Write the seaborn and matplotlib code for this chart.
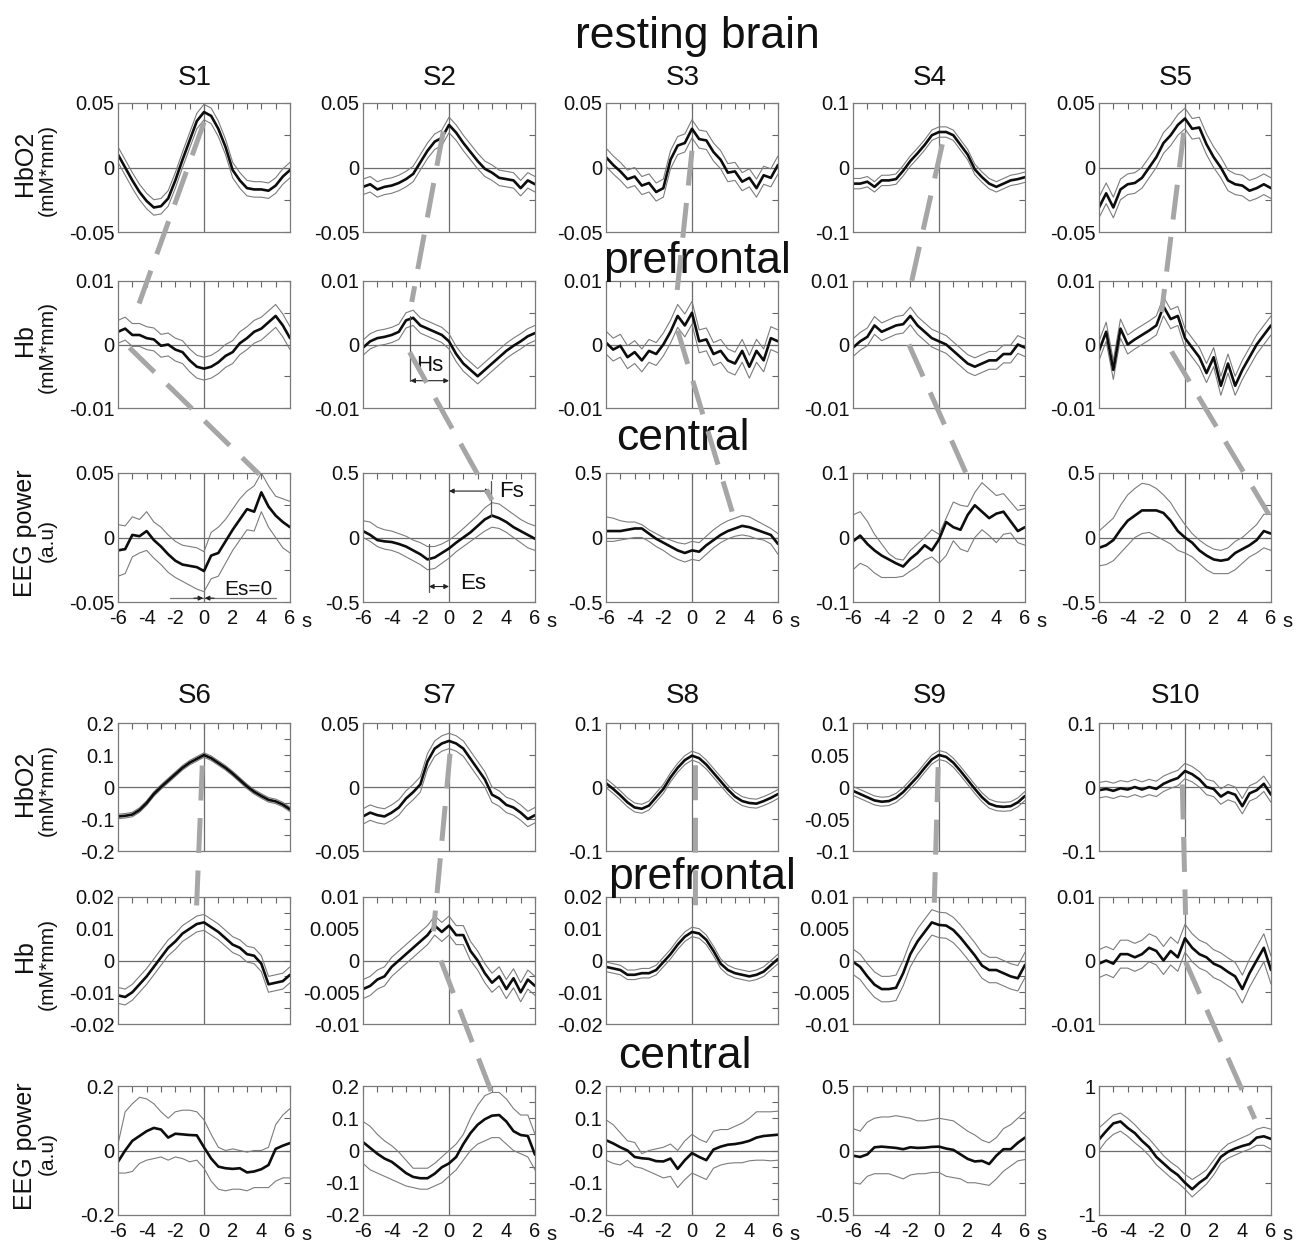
import numpy as np
import matplotlib
matplotlib.use("Agg")
import matplotlib.pyplot as plt
import seaborn as sns
from matplotlib.patches import ConnectionPatch
from matplotlib.ticker import FuncFormatter, MultipleLocator

sns.set_theme(style="white")
plt.rcParams["font.family"] = ["Liberation Sans", "DejaVu Sans"]
plt.rcParams["axes.unicode_minus"] = False

# ---------------------------------------------------------------- data
time_s = np.linspace(-6, 6, 25)
x_ticks = [-6, -5, -4, -3, -2, -1, 0, 1, 2, 3, 4, 5, 6]
x_tick_labels = ["-6", "", "-4", "", "-2", "", "0", "", "2", "", "4", "", "6"]

subjects = ["S1", "S2", "S3", "S4", "S5", "S6", "S7", "S8", "S9", "S10"]

# HbO2 (prefrontal) mean curves and band half widths
s1_hbo2 = [0.010, 0.000, -0.010, -0.019, -0.026, -0.031, -0.030, -0.024, -0.010, 0.006, 0.021, 0.036, 0.043, 0.040, 0.030, 0.016, -0.002, -0.010, -0.016, -0.017, -0.017, -0.018, -0.014, -0.007, -0.002]
s2_hbo2 = [-0.015, -0.013, -0.017, -0.015, -0.014, -0.012, -0.009, -0.005, 0.004, 0.013, 0.020, 0.023, 0.033, 0.027, 0.019, 0.012, 0.005, -0.001, -0.004, -0.008, -0.009, -0.010, -0.016, -0.010, -0.013]
s3_hbo2 = [0.008, 0.002, -0.003, -0.009, -0.007, -0.014, -0.012, -0.019, -0.016, 0.006, 0.017, 0.019, 0.030, 0.022, 0.021, 0.012, 0.006, -0.004, -0.003, -0.011, -0.008, -0.016, -0.006, -0.008, 0.002]
s4_hbo2 = [-0.025, -0.025, -0.022, -0.030, -0.020, -0.020, -0.018, -0.005, 0.010, 0.022, 0.035, 0.050, 0.055, 0.055, 0.050, 0.035, 0.020, -0.003, -0.015, -0.025, -0.030, -0.025, -0.020, -0.018, -0.015]
s5_hbo2 = [-0.031, -0.020, -0.031, -0.017, -0.013, -0.012, -0.008, 0.000, 0.008, 0.019, 0.025, 0.033, 0.038, 0.030, 0.031, 0.018, 0.008, 0.000, -0.010, -0.013, -0.014, -0.018, -0.016, -0.013, -0.016]
s6_hbo2 = [-0.092, -0.090, -0.086, -0.072, -0.050, -0.022, 0.000, 0.020, 0.040, 0.060, 0.076, 0.088, 0.100, 0.090, 0.075, 0.060, 0.042, 0.022, 0.002, -0.015, -0.028, -0.040, -0.045, -0.055, -0.070]
s7_hbo2 = [-0.023, -0.020, -0.022, -0.023, -0.020, -0.016, -0.009, -0.004, 0.002, 0.020, 0.030, 0.034, 0.036, 0.034, 0.030, 0.022, 0.014, 0.006, -0.006, -0.009, -0.014, -0.016, -0.020, -0.025, -0.022]
s8_hbo2 = [0.006, -0.003, -0.013, -0.024, -0.032, -0.034, -0.029, -0.016, -0.003, 0.015, 0.030, 0.042, 0.049, 0.045, 0.035, 0.022, 0.009, -0.004, -0.015, -0.022, -0.025, -0.026, -0.022, -0.017, -0.011]
s9_hbo2 = [-0.006, -0.011, -0.016, -0.021, -0.023, -0.022, -0.017, -0.008, 0.004, 0.016, 0.030, 0.043, 0.050, 0.047, 0.038, 0.025, 0.011, -0.003, -0.016, -0.026, -0.030, -0.031, -0.030, -0.024, -0.014]
s10_hbo2 = [-0.005, -0.003, -0.006, -0.002, -0.004, 0.000, -0.004, 0.000, -0.003, 0.005, 0.010, 0.014, 0.025, 0.020, 0.012, 0.000, -0.003, -0.015, -0.008, -0.012, -0.030, -0.010, -0.005, 0.005, -0.012]
hbo2_band = [0.006, 0.006, 0.007, 0.008, 0.008, 0.007, 0.006, 0.007, 0.007, 0.012]

# Hb (prefrontal) mean curves and band half widths
s1_hb = [0.002, 0.0025, 0.0015, 0.0015, 0.001, 0.0008, -0.0002, 0.0, -0.0008, -0.0012, -0.0025, -0.0035, -0.0038, -0.0035, -0.0028, -0.0018, -0.0012, 0.0002, 0.001, 0.002, 0.0025, 0.0035, 0.0045, 0.003, 0.001]
s2_hb = [-0.0005, 0.0005, 0.001, 0.0012, 0.0015, 0.002, 0.0038, 0.0042, 0.003, 0.0025, 0.002, 0.0015, 0.0005, -0.0015, -0.003, -0.004, -0.005, -0.004, -0.003, -0.002, -0.001, -0.0002, 0.0005, 0.0013, 0.0018]
s3_hb = [0.0003, -0.0008, -0.0002, -0.002, -0.0012, -0.0025, -0.001, -0.0015, 0.0, 0.002, 0.0045, 0.003, 0.005, 0.0005, 0.0008, -0.0015, -0.001, -0.0025, -0.003, -0.001, -0.0035, -0.001, -0.0025, 0.001, 0.0005]
s4_hb = [-0.0005, 0.0005, 0.0012, 0.003, 0.002, 0.0025, 0.003, 0.0032, 0.0045, 0.003, 0.002, 0.001, 0.0005, 0.0, -0.001, -0.002, -0.003, -0.0035, -0.003, -0.0025, -0.0025, -0.0015, -0.0015, 0.0, -0.0005]
s5_hb = [-0.001, 0.002, -0.004, 0.0025, 0.0, 0.0008, 0.0015, 0.0022, 0.003, 0.006, 0.004, 0.0045, 0.001, -0.0005, -0.002, -0.0045, -0.002, -0.0065, -0.003, -0.0065, -0.004, -0.002, 0.0, 0.0015, 0.003]
s6_hb = [-0.011, -0.0115, -0.010, -0.0075, -0.005, -0.002, 0.001, 0.004, 0.006, 0.0085, 0.010, 0.0115, 0.012, 0.0105, 0.009, 0.007, 0.005, 0.004, 0.002, 0.0015, -0.001, -0.0075, -0.007, -0.0065, -0.0045]
s7_hb = [-0.0045, -0.004, -0.003, -0.0025, -0.001, 0.0, 0.001, 0.002, 0.003, 0.004, 0.0055, 0.0045, 0.0055, 0.004, 0.004, 0.0015, 0.0, -0.002, -0.0035, -0.0025, -0.0045, -0.0028, -0.005, -0.003, -0.004]
s8_hb = [-0.002, -0.0025, -0.003, -0.0045, -0.0045, -0.004, -0.004, -0.003, -0.0005, 0.002, 0.005, 0.0075, 0.009, 0.0085, 0.0065, 0.003, -0.001, -0.003, -0.004, -0.0045, -0.005, -0.0045, -0.0035, -0.0015, 0.0005]
s9_hb = [-0.0002, -0.001, -0.0025, -0.0038, -0.0045, -0.0045, -0.0043, -0.002, 0.001, 0.003, 0.0045, 0.006, 0.0056, 0.0055, 0.0048, 0.0036, 0.0022, 0.0008, -0.0008, -0.0015, -0.0015, -0.002, -0.0025, -0.0028, -0.0007]
s10_hb = [-0.0005, 0.0, -0.0005, 0.001, 0.001, 0.0005, 0.001, 0.002, 0.0015, 0.0, 0.0015, 0.0005, 0.0035, 0.002, 0.001, 0.0005, -0.0005, -0.001, -0.0018, -0.0025, -0.0045, -0.002, 0.0, 0.002, -0.0015]
hb_band = [0.0018, 0.0012, 0.0018, 0.0014, 0.0015, 0.0025, 0.0015, 0.0015, 0.002, 0.0022]

# EEG power (central): mean, upper and lower bounds
s1_eeg = [-0.010, -0.009, 0.002, 0.001, 0.005, -0.002, -0.007, -0.013, -0.018, -0.021, -0.022, -0.023, -0.026, -0.014, -0.012, -0.003, 0.006, 0.014, 0.022, 0.020, 0.035, 0.024, 0.017, 0.012, 0.008]
s1_eeg_hi = [0.010, 0.009, 0.016, 0.014, 0.020, 0.012, 0.008, 0.002, -0.003, -0.006, -0.007, -0.008, -0.011, 0.004, 0.008, 0.014, 0.022, 0.030, 0.036, 0.040, 0.050, 0.040, 0.032, 0.030, 0.028]
s1_eeg_lo = [-0.030, -0.028, -0.015, -0.012, -0.010, -0.016, -0.021, -0.027, -0.031, -0.034, -0.037, -0.040, -0.042, -0.032, -0.030, -0.020, -0.010, -0.002, 0.006, 0.005, 0.020, 0.008, 0.000, -0.008, -0.012]
s2_eeg = [0.05, 0.02, -0.02, -0.03, -0.035, -0.05, -0.07, -0.10, -0.13, -0.17, -0.155, -0.12, -0.085, -0.04, 0.0, 0.04, 0.09, 0.14, 0.17, 0.15, 0.12, 0.08, 0.05, 0.02, -0.01]
s2_eeg_hi = [0.13, 0.12, 0.08, 0.06, 0.05, 0.03, 0.01, -0.02, -0.04, -0.07, -0.07, -0.05, -0.02, 0.02, 0.07, 0.12, 0.17, 0.23, 0.27, 0.26, 0.22, 0.18, 0.14, 0.11, 0.09]
s2_eeg_lo = [0.0, -0.03, -0.07, -0.09, -0.10, -0.12, -0.15, -0.18, -0.21, -0.25, -0.24, -0.20, -0.16, -0.11, -0.07, -0.03, 0.01, 0.05, 0.08, 0.07, 0.04, 0.0, -0.04, -0.08, -0.10]
s3_eeg = [0.05, 0.05, 0.05, 0.06, 0.07, 0.07, 0.03, -0.01, -0.04, -0.07, -0.10, -0.12, -0.10, -0.11, -0.06, -0.02, 0.02, 0.05, 0.07, 0.09, 0.08, 0.06, 0.04, 0.02, -0.05]
s3_eeg_hi = [0.16, 0.15, 0.13, 0.12, 0.12, 0.10, 0.06, 0.03, 0.0, -0.02, -0.04, -0.05, -0.03, -0.04, 0.01, 0.06, 0.10, 0.13, 0.15, 0.17, 0.16, 0.13, 0.10, 0.07, 0.03]
s3_eeg_lo = [-0.03, -0.03, -0.02, -0.01, 0.0, 0.0, -0.03, -0.07, -0.10, -0.14, -0.17, -0.19, -0.17, -0.18, -0.13, -0.08, -0.04, -0.01, 0.01, 0.02, 0.01, -0.01, -0.02, -0.05, -0.13]
s4_eeg = [-0.006, 0.003, -0.010, -0.020, -0.028, -0.034, -0.040, -0.045, -0.033, -0.024, -0.012, -0.020, -0.003, 0.024, 0.016, 0.012, 0.035, 0.050, 0.040, 0.030, 0.037, 0.040, 0.025, 0.010, 0.016]
s4_eeg_hi = [0.035, 0.040, 0.025, 0.005, -0.010, -0.025, -0.033, -0.035, -0.020, -0.010, 0.000, 0.012, 0.005, 0.030, 0.055, 0.050, 0.048, 0.070, 0.085, 0.075, 0.065, 0.068, 0.055, 0.042, 0.045]
s4_eeg_lo = [-0.050, -0.040, -0.045, -0.055, -0.062, -0.062, -0.062, -0.060, -0.052, -0.045, -0.035, -0.030, -0.040, -0.028, -0.005, -0.018, -0.022, 0.000, 0.012, 0.003, -0.008, 0.005, 0.007, -0.008, -0.012]
s5_eeg = [-0.08, -0.06, -0.02, 0.06, 0.13, 0.17, 0.21, 0.21, 0.21, 0.19, 0.13, 0.05, 0.0, -0.04, -0.10, -0.14, -0.17, -0.18, -0.17, -0.12, -0.09, -0.06, -0.02, 0.05, 0.03]
s5_eeg_hi = [0.05, 0.10, 0.15, 0.25, 0.33, 0.38, 0.42, 0.41, 0.38, 0.33, 0.27, 0.18, 0.10, 0.03, -0.02, -0.06, -0.09, -0.10, -0.08, -0.03, 0.00, 0.05, 0.10, 0.18, 0.18]
s5_eeg_lo = [-0.22, -0.21, -0.18, -0.12, -0.06, 0.00, 0.03, 0.04, 0.01, -0.02, -0.05, -0.10, -0.12, -0.15, -0.20, -0.25, -0.28, -0.28, -0.28, -0.25, -0.20, -0.15, -0.12, -0.08, -0.10]
s6_eeg = [-0.035, 0.000, 0.030, 0.045, 0.060, 0.070, 0.065, 0.040, 0.052, 0.050, 0.048, 0.047, 0.010, -0.025, -0.050, -0.055, -0.057, -0.055, -0.068, -0.065, -0.058, -0.045, 0.005, 0.015, 0.023]
s6_eeg_hi = [0.020, 0.120, 0.145, 0.165, 0.160, 0.145, 0.120, 0.100, 0.120, 0.125, 0.125, 0.120, 0.095, 0.050, 0.010, 0.000, 0.005, 0.000, -0.005, 0.000, 0.000, 0.010, 0.080, 0.110, 0.130]
s6_eeg_lo = [-0.070, -0.070, -0.065, -0.040, -0.030, -0.025, -0.020, -0.030, -0.020, -0.025, -0.035, -0.030, -0.055, -0.095, -0.120, -0.125, -0.120, -0.120, -0.125, -0.115, -0.115, -0.115, -0.095, -0.085, -0.085]
s7_eeg = [0.026, 0.008, -0.010, -0.025, -0.035, -0.052, -0.070, -0.082, -0.086, -0.086, -0.072, -0.052, -0.040, -0.020, 0.020, 0.054, 0.080, 0.097, 0.108, 0.110, 0.090, 0.060, 0.048, 0.045, -0.013]
s7_eeg_hi = [0.090, 0.075, 0.050, 0.030, 0.015, -0.005, -0.030, -0.055, -0.055, -0.055, -0.040, -0.020, 0.000, 0.020, 0.050, 0.100, 0.140, 0.170, 0.180, 0.180, 0.160, 0.130, 0.110, 0.110, 0.050]
s7_eeg_lo = [-0.040, -0.060, -0.070, -0.080, -0.090, -0.100, -0.110, -0.115, -0.120, -0.120, -0.110, -0.100, -0.080, -0.060, -0.030, 0.000, 0.020, 0.030, 0.040, 0.040, 0.020, 0.000, -0.010, -0.020, -0.060]
s8_eeg = [0.032, 0.022, 0.010, 0.000, -0.020, -0.024, -0.026, -0.033, -0.034, -0.025, -0.057, -0.030, -0.008, -0.020, -0.030, 0.003, 0.012, 0.018, 0.020, 0.024, 0.030, 0.040, 0.045, 0.047, 0.049]
s8_eeg_hi = [0.095, 0.080, 0.055, 0.030, 0.025, -0.010, 0.000, 0.005, 0.010, 0.020, 0.000, 0.030, 0.050, 0.035, 0.025, 0.060, 0.065, 0.065, 0.075, 0.085, 0.100, 0.120, 0.120, 0.120, 0.122]
s8_eeg_lo = [-0.030, -0.040, -0.045, -0.030, -0.050, -0.055, -0.065, -0.075, -0.085, -0.080, -0.115, -0.090, -0.070, -0.080, -0.090, -0.055, -0.045, -0.040, -0.038, -0.038, -0.032, -0.030, -0.030, -0.032, -0.030]
s9_eeg = [-0.04, -0.05, -0.03, 0.025, 0.03, 0.025, 0.02, 0.01, 0.025, 0.02, 0.022, 0.028, 0.03, 0.015, 0.005, -0.03, -0.065, -0.085, -0.08, -0.105, -0.04, 0.01, 0.01, 0.06, 0.10]
s9_eeg_hi = [0.17, 0.15, 0.22, 0.25, 0.26, 0.26, 0.27, 0.26, 0.25, 0.23, 0.23, 0.24, 0.25, 0.24, 0.23, 0.19, 0.15, 0.12, 0.08, 0.06, 0.10, 0.17, 0.20, 0.25, 0.30]
s9_eeg_lo = [-0.25, -0.26, -0.20, -0.18, -0.18, -0.18, -0.20, -0.22, -0.19, -0.18, -0.18, -0.17, -0.17, -0.20, -0.21, -0.22, -0.25, -0.25, -0.26, -0.27, -0.22, -0.16, -0.12, -0.08, -0.07]
s10_eeg = [0.17, 0.30, 0.42, 0.45, 0.35, 0.27, 0.15, 0.05, -0.10, -0.20, -0.30, -0.38, -0.50, -0.60, -0.50, -0.42, -0.27, -0.10, -0.02, 0.03, 0.07, 0.10, 0.20, 0.22, 0.18]
s10_eeg_hi = [0.35, 0.45, 0.55, 0.58, 0.50, 0.40, 0.28, 0.18, 0.05, -0.08, -0.18, -0.26, -0.37, -0.45, -0.38, -0.30, -0.15, 0.00, 0.10, 0.15, 0.20, 0.25, 0.33, 0.36, 0.33]
s10_eeg_lo = [0.00, 0.15, 0.25, 0.30, 0.22, 0.12, 0.03, -0.08, -0.22, -0.32, -0.42, -0.50, -0.60, -0.72, -0.62, -0.52, -0.38, -0.20, -0.12, -0.07, -0.02, 0.02, 0.08, 0.08, 0.02]

# axis half ranges and labelled tick steps (HbO2, Hb, EEG)
hbo2_lim = [0.05, 0.05, 0.05, 0.1, 0.05, 0.2, 0.05, 0.1, 0.1, 0.1]
hbo2_step = [0.05, 0.05, 0.05, 0.1, 0.05, 0.1, 0.05, 0.1, 0.05, 0.1]
hb_lim = [0.01, 0.01, 0.01, 0.01, 0.01, 0.02, 0.01, 0.02, 0.01, 0.01]
hb_step = [0.01, 0.01, 0.01, 0.01, 0.01, 0.01, 0.005, 0.01, 0.005, 0.01]
eeg_lim = [0.05, 0.5, 0.5, 0.1, 0.5, 0.2, 0.2, 0.2, 0.5, 1.0]
eeg_step = [0.05, 0.5, 0.5, 0.1, 0.5, 0.2, 0.1, 0.1, 0.5, 1.0]

# peak-to-peak guides: (row_from, t, value, row_to, t, value)
s1_links = [(0, 0.0, 0.035, 1, -4.6, 0.006), (1, -5.2, -0.0005, 2, 3.85, 0.049)]
s2_links = [(0, -0.4, 0.028, 1, -2.6, 0.0067), (1, -2.75, -0.0012, 2, 3.0, 0.29)]
s3_links = [(0, 0.0, 0.013, 1, -1.13, 0.0065), (1, -1.0, 0.0022, 2, 2.8, 0.2)]
s4_links = [(0, 0.23, 0.036, 1, -2.14, 0.0076), (1, -2.1, 0.0, 2, 2.28, 0.08)]
s5_links = [(0, -0.09, 0.027, 1, -1.63, 0.0051), (1, -0.94, -0.0011, 2, 5.84, 0.18)]
s6_links = [(0, -0.12, 0.067, 1, -0.52, 0.0168)]
s7_links = [(0, 0.07, 0.026, 1, -1.08, 0.0046), (1, -0.57, 0.0, 2, 3.24, 0.149)]
s8_links = [(0, 0.24, 0.034, 1, 0.24, 0.0132)]
s9_links = [(0, -0.06, 0.031, 1, -0.33, 0.0091)]
s10_links = [(0, -0.19, 0.004, 1, 0.04, 0.0072), (1, 0.04, -0.0002, 2, 4.87, 0.49)]

hbo2_mean = [s1_hbo2, s2_hbo2, s3_hbo2, s4_hbo2, s5_hbo2, s6_hbo2, s7_hbo2, s8_hbo2, s9_hbo2, s10_hbo2]
hb_mean = [s1_hb, s2_hb, s3_hb, s4_hb, s5_hb, s6_hb, s7_hb, s8_hb, s9_hb, s10_hb]
eeg_mean = [s1_eeg, s2_eeg, s3_eeg, s4_eeg, s5_eeg, s6_eeg, s7_eeg, s8_eeg, s9_eeg, s10_eeg]
eeg_hi = [s1_eeg_hi, s2_eeg_hi, s3_eeg_hi, s4_eeg_hi, s5_eeg_hi, s6_eeg_hi, s7_eeg_hi, s8_eeg_hi, s9_eeg_hi, s10_eeg_hi]
eeg_lo = [s1_eeg_lo, s2_eeg_lo, s3_eeg_lo, s4_eeg_lo, s5_eeg_lo, s6_eeg_lo, s7_eeg_lo, s8_eeg_lo, s9_eeg_lo, s10_eeg_lo]
links = [s1_links, s2_links, s3_links, s4_links, s5_links, s6_links, s7_links, s8_links, s9_links, s10_links]

# ---------------------------------------------------------------- layout
W, H = 1304, 1245
col_left = [118, 363, 606, 853, 1099]
panel_w = 172
group_rows = [[(103, 232), (281, 408), (473, 602)],
              [(723, 851), (897, 1024), (1086, 1215)]]
title_base = [85, 703]

MEAN_C, BAND_C, REF_C, SPINE_C, GUIDE_C = "#0d0d0d", "#7c7c7c", "#6c6c6c", "#7a7a7a", "#a6a6a6"


def fx(px):
    return px / W


def fy(py):
    return 1 - py / H


fmt = FuncFormatter(lambda v, p: "%g" % round(v, 6))

fig = plt.figure(figsize=(W / 100, H / 100), dpi=100)
fig.patch.set_facecolor("white")


def draw_panel(ax, mean, hi, lo, lim, step, show_x):
    sns.lineplot(x=time_s, y=np.asarray(hi), ax=ax, color=BAND_C, linewidth=0.8,
                 estimator=None, sort=False, legend=False)
    sns.lineplot(x=time_s, y=np.asarray(lo), ax=ax, color=BAND_C, linewidth=0.8,
                 estimator=None, sort=False, legend=False)
    sns.lineplot(x=time_s, y=np.asarray(mean), ax=ax, color=MEAN_C, linewidth=1.9,
                 estimator=None, sort=False, legend=False)
    ax.axhline(0, color=REF_C, lw=0.9, zorder=0.5)
    ax.axvline(0, color=REF_C, lw=0.9, zorder=0.5)
    ax.set_xlim(-6, 6)
    ax.set_ylim(-lim, lim)
    ax.set_xticks(x_ticks)
    ax.set_xticklabels(x_tick_labels if show_x else [""] * len(x_ticks))
    ax.yaxis.set_major_locator(MultipleLocator(step))
    ax.yaxis.set_minor_locator(MultipleLocator(step / 2))
    ax.yaxis.set_major_formatter(fmt)
    ax.set_xlabel("")
    ax.set_ylabel("")
    ax.tick_params(axis="both", which="both", direction="in", length=4, width=0.8,
                   color="#666666", top=True, right=True, labelsize=14.5,
                   labelcolor="#111111")
    ax.tick_params(axis="y", which="both", pad=2.5)
    ax.tick_params(axis="x", which="both", pad=5, labelbottom=show_x)
    for sp in ax.spines.values():
        sp.set_color(SPINE_C)
        sp.set_linewidth(0.9)
    ax.set_facecolor("white")


all_axes = []
for i, name in enumerate(subjects):
    g, c = divmod(i, 5)
    left = col_left[c]
    axes_rows = []
    for r, (top, bot) in enumerate(group_rows[g]):
        ax = fig.add_axes([fx(left), fy(bot), panel_w / W, (bot - top) / H])
        if r == 0:
            m = hbo2_mean[i]
            hi = [v + hbo2_band[i] for v in m]
            lo = [v - hbo2_band[i] for v in m]
            draw_panel(ax, m, hi, lo, hbo2_lim[i], hbo2_step[i], False)
        elif r == 1:
            m = hb_mean[i]
            hi = [v + hb_band[i] for v in m]
            lo = [v - hb_band[i] for v in m]
            draw_panel(ax, m, hi, lo, hb_lim[i], hb_step[i], False)
        else:
            draw_panel(ax, eeg_mean[i], eeg_hi[i], eeg_lo[i], eeg_lim[i], eeg_step[i], True)
            fig.text(fx(left + panel_w + 16), fy(bot + 19), "s", fontsize=14.5,
                     ha="center", va="center", color="#111111")
        axes_rows.append(ax)
    all_axes.append(axes_rows)
    fig.text(fx(left + panel_w / 2 - 9), fy(title_base[g]), name, fontsize=20,
             ha="center", va="baseline", color="#111111")

# row labels on the left column
for g in range(2):
    rows = group_rows[g]
    labels = [("HbO2", "(mM*mm)"), ("Hb", "(mM*mm)"), ("EEG power", "(a.u)")]
    for (top, bot), (main, unit) in zip(rows, labels):
        yc = (top + bot) / 2
        fig.text(fx(25), fy(yc - 4), main, fontsize=18, rotation=90,
                 ha="center", va="center", color="#111111")
        fig.text(fx(47), fy(yc + 3), unit, fontsize=15, rotation=90,
                 ha="center", va="center", color="#111111")

# headings
fig.text(fx(697), fy(48), "resting brain", fontsize=32, ha="center", va="baseline", color="#111111")
fig.text(fx(697), fy(273), "prefrontal", fontsize=32, ha="center", va="baseline", color="#111111")
fig.text(fx(683), fy(450), "central", fontsize=32, ha="center", va="baseline", color="#111111")
fig.text(fx(702), fy(889), "prefrontal", fontsize=32, ha="center", va="baseline", color="#111111")
fig.text(fx(685), fy(1068), "central", fontsize=32, ha="center", va="baseline", color="#111111")

# shift annotations: S1 EEG
ax = all_axes[0][2]
ax.plot([-2.4, 5.0], [-0.047, -0.047], color="#777777", lw=0.9)
ax.annotate("", xy=(-0.05, -0.047), xytext=(-0.7, -0.047),
            arrowprops=dict(arrowstyle="-|>", mutation_scale=7, lw=0.8, color="#222222",
                            shrinkA=0, shrinkB=0))
ax.annotate("", xy=(0.05, -0.047), xytext=(0.7, -0.047),
            arrowprops=dict(arrowstyle="-|>", mutation_scale=7, lw=0.8, color="#222222",
                            shrinkA=0, shrinkB=0))
ax.text(3.1, -0.040, "Es=0", fontsize=15, ha="center", va="center", color="#111111")

# S2 Hb: Hs
ax = all_axes[1][1]
ax.plot([-2.7, -2.7], [0.0045, -0.0057], color="#555555", lw=0.9)
ax.annotate("", xy=(0, -0.0057), xytext=(-2.7, -0.0057),
            arrowprops=dict(arrowstyle="<|-|>", mutation_scale=7, lw=0.8, color="#222222",
                            shrinkA=0, shrinkB=0))
ax.text(-1.35, -0.0033, "Hs", fontsize=16, ha="center", va="center", color="#111111")

# S2 EEG: Fs and Es
ax = all_axes[1][2]
ax.plot([2.9, 2.9], [0.44, 0.17], color="#555555", lw=0.9)
ax.annotate("", xy=(2.9, 0.36), xytext=(0, 0.36),
            arrowprops=dict(arrowstyle="<|-|>", mutation_scale=7, lw=0.8, color="#222222",
                            shrinkA=0, shrinkB=0))
ax.text(4.35, 0.36, "Fs", fontsize=16, ha="center", va="center", color="#111111")
ax.plot([-1.4, -1.4], [-0.05, -0.42], color="#555555", lw=0.9)
ax.annotate("", xy=(0, -0.38), xytext=(-1.4, -0.38),
            arrowprops=dict(arrowstyle="<|-|>", mutation_scale=7, lw=0.8, color="#222222",
                            shrinkA=0, shrinkB=0))
ax.text(1.7, -0.36, "Es", fontsize=16, ha="center", va="center", color="#111111")

# dashed peak-to-peak guides across rows
for i, subj_links in enumerate(links):
    for (ra, ta, va, rb, tb, vb) in subj_links:
        con = ConnectionPatch(xyA=(ta, va), coordsA=all_axes[i][ra].transData,
                              xyB=(tb, vb), coordsB=all_axes[i][rb].transData,
                              color=GUIDE_C, lw=3.6, linestyle=(0, (7, 3.5)),
                              capstyle="butt", zorder=20)
        fig.add_artist(con)

fig.savefig("out.png", dpi=100, facecolor="white")
